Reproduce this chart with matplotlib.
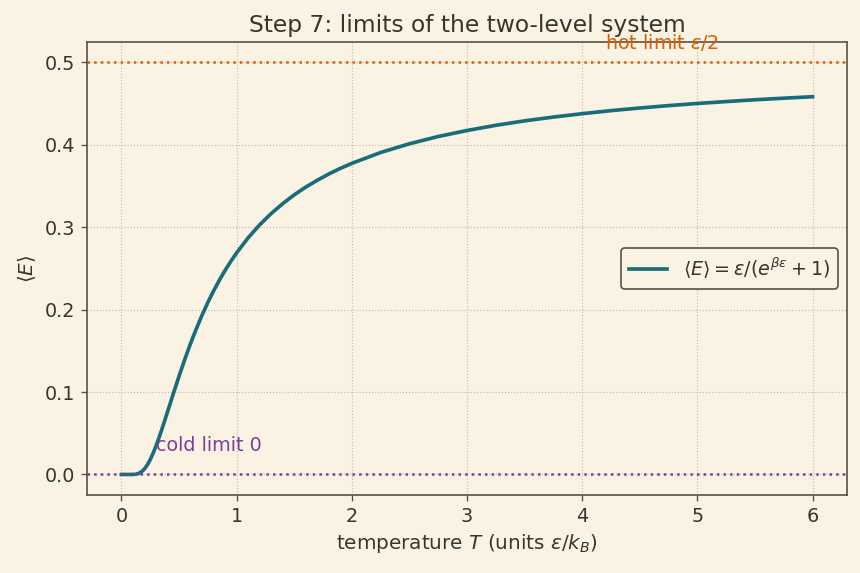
import matplotlib
matplotlib.use("Agg")
import matplotlib.pyplot as plt

# Values
T_vals = [0.0, 0.05, 0.10, 0.125, 0.15, 0.175, 0.20, 0.225, 0.25, 0.275, 0.30,
          0.325, 0.35, 0.375, 0.40, 0.425, 0.45, 0.50, 0.55, 0.60, 0.65, 0.70,
          0.75, 0.80, 0.85, 0.90, 0.95, 1.00, 1.10, 1.20, 1.30, 1.40, 1.50,
          1.60, 1.70, 1.80, 1.90, 2.00, 2.25, 2.50, 2.75, 3.00, 3.25, 3.50,
          3.75, 4.00, 4.25, 4.50, 4.75, 5.00, 5.25, 5.50, 5.75, 6.00]
E_vals = [0.0000, 0.0000, 0.0000, 0.0003, 0.0013, 0.0033, 0.0067, 0.0116, 0.0180,
          0.0257, 0.0344, 0.0441, 0.0543, 0.0650, 0.0759, 0.0868, 0.0978, 0.1192,
          0.1396, 0.1589, 0.1767, 0.1933, 0.2086, 0.2227, 0.2357, 0.2477, 0.2587,
          0.2689, 0.2872, 0.3029, 0.3166, 0.3286, 0.3393, 0.3487, 0.3570, 0.3646,
          0.3714, 0.3775, 0.3907, 0.4013, 0.4101, 0.4174, 0.4237, 0.4291, 0.4337,
          0.4378, 0.4415, 0.4447, 0.4476, 0.4502, 0.4525, 0.4547, 0.4566, 0.4584]
hot_limit = 0.5
cold_limit = 0.0

bg = "#faf3e3"
text_c = "#3a342c"
spine_c = "#5a5043"

plt.rcParams.update({
    "font.family": ["DejaVu Sans"],
    "font.size": 11.5,
    "text.color": text_c,
    "axes.labelcolor": text_c,
    "xtick.color": text_c,
    "ytick.color": text_c,
})

fig, ax = plt.subplots(figsize=(860 / 120, 573 / 120), dpi=120)
fig.patch.set_facecolor(bg)
ax.set_facecolor(bg)

ax.plot(T_vals, E_vals, color="#176d7a", lw=2.2,
        label=r"$\langle E\rangle = \varepsilon/(e^{\beta\varepsilon}+1)$")
ax.axhline(hot_limit, color="#d95f02", ls=":", lw=1.5)
ax.axhline(cold_limit, color="#7b3f9e", ls=":", lw=1.5)
ax.text(4.2, 0.516, r"hot limit $\varepsilon/2$", color="#d95f02", fontsize=11.5)
ax.text(0.3, 0.028, "cold limit 0", color="#7b3f9e", fontsize=11.5)

ax.set_xlim(-0.3, 6.3)
ax.set_ylim(-0.025, 0.525)
ax.set_xticks([0, 1, 2, 3, 4, 5, 6])
ax.set_yticks([0.0, 0.1, 0.2, 0.3, 0.4, 0.5])
ax.grid(True, ls=":", color="#c4beb2", lw=0.7)
for s in ax.spines.values():
    s.set_color(spine_c)
    s.set_linewidth(1.0)
ax.tick_params(color=spine_c, labelsize=11.5)

ax.set_title("Step 7: limits of the two-level system", fontsize=14, color=text_c)
ax.set_xlabel(r"temperature $T$ (units $\varepsilon/k_B$)", fontsize=12)
ax.set_ylabel(r"$\langle E\rangle$", fontsize=12)

leg = ax.legend(loc="center right", fontsize=11.5, facecolor=bg, edgecolor=spine_c,
                framealpha=1.0)
leg.get_frame().set_linewidth(1.0)

fig.subplots_adjust(left=0.101, right=0.985, top=0.927, bottom=0.136)
fig.savefig("out.png", dpi=120, facecolor=bg)
